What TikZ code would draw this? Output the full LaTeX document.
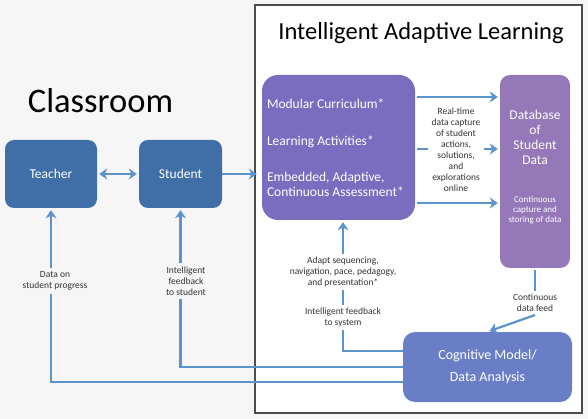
\documentclass[tikz,border=0pt]{standalone}
\usepackage{xcolor}
\usepackage{fontspec}
\setmainfont{Carlito}
\usepackage{tikz}
\usetikzlibrary{arrows.meta, positioning, calc}
\definecolor{classblue}{HTML}{3F6FA6}
\definecolor{flowblue}{HTML}{5B93CD}
\definecolor{ialpurple}{HTML}{7A6CBF}
\definecolor{dbpurple}{HTML}{9478B8}
\definecolor{cogblue}{HTML}{6A7EC8}
\definecolor{labelgray}{HTML}{333333}
\definecolor{bggray}{HTML}{F6F6F6}
\tikzset{
	classbox/.style={rounded corners=9pt, minimum height=68pt, fill=classblue, text=white, font=\fontsize{13.5}{15}\selectfont},
	iabox/.style={rounded corners=12pt, fill=#1, text=white, font=\fontsize{13.5}{15}\selectfont},
	flowline/.style={line width=2.2pt, draw=flowblue},
	flowarr/.style={flowline, -{Stealth[length=8pt, width=11pt, inset=2.5pt]}, shorten >=2pt},
	flowboth/.style={flowline, {Stealth[length=8pt, width=11pt, inset=2.5pt]}-{Stealth[length=8pt, width=11pt, inset=2.5pt]}, shorten >=2pt, shorten <=2pt},
	smalltxt/.style={align=center, text=labelgray, font=\fontsize{9.5}{11}\selectfont, inner sep=3pt},
}

\begin{document}
\begin{tikzpicture}[x=1pt, y=-1pt]
	\useasboundingbox[fill=bggray] (0,0) rectangle (588,419);
	\draw[fill=white, draw=black!70, line width=1.2pt] (255,5) rectangle (582,413);
	\node[anchor=base, font=\fontsize{24.5}{28}\selectfont] (title) at (421,39.5) {Intelligent Adaptive Learning};
	\node[anchor=base, font=\fontsize{34.5}{40}\selectfont] (room) at (100.5,113) {Classroom};

	% classroom side
	\node[classbox, minimum width=92pt] (teacher) at (51,174) {Teacher};
	\node[classbox, minimum width=83pt] (student) at (180.5,174) {Student};

	% adaptive learning side
	\node[iabox=ialpurple, rounded corners=16pt, minimum height=145pt, inner sep=5pt, text width=143pt, align=flush left] (ial) at (338.5,147.5) {Modular Curriculum*\\[22pt]Learning Activities*\\[21pt]Embedded, Adaptive,\\Continuous Assessment*};
	\node[iabox=dbpurple, rounded corners=10pt, minimum width=70pt, minimum height=193pt] (db) at (535,171.5) {};
	\node[align=center, text=white, font=\fontsize{13.5}{15}\selectfont] (dbname) at (535,137.5) {Database\\of\\Student\\Data};
	\node[align=center, text=white, font=\fontsize{9}{10}\selectfont] (dbnote) at (535,210) {Continuous\\capture and\\storing of data};
	\node[iabox=cogblue, minimum width=169pt, minimum height=70pt, align=center, font=\fontsize{14}{22}\selectfont] (cog) at (487.5,367) {Cognitive Model/\\Data Analysis};

	% labels
	\node[smalltxt] (realtime) at (456,150) {Real-time\\data capture\\of student\\actions,\\solutions,\\and\\explorations\\online};
	\node[smalltxt] (feed) at (535,303) {Continuous\\data feed};
	\node[smalltxt] (fbsys) at (343,317.5) {Intelligent feedback\\to system};
	\node[smalltxt] (adapt) at (343,272) {Adapt sequencing,\\navigation, pace, pedagogy,\\and presentation*};
	\node[smalltxt] (fbstud) at (186,281) {Intelligent\\feedback\\to student};
	\node[smalltxt] (progress) at (55,281) {Data on\\student progress};

	% arrows
	\draw[flowboth] (teacher) -- (student);
	\draw[flowarr, shorten >=5pt] (student.east) -- (student.east -| ial.west);
	\draw[flowarr, shorten <=2pt] ([yshift=50.5pt]ial.east) -- ([yshift=50.5pt]ial.east -| db.west);
	\draw[flowline, shorten <=2pt] ([yshift=-1.5pt]ial.east) -- ([yshift=-1.5pt]ial.east -| realtime.west);
	\draw[flowarr] ([yshift=-1.5pt]ial.east -| realtime.east) -- ([yshift=-1.5pt]ial.east -| db.west);
	\draw[flowarr, shorten <=2pt] ([yshift=-55.5pt]ial.east) -- ([yshift=-55.5pt]ial.east -| db.west);
	\draw[flowline, shorten <=2pt] (db.south) -- (feed.north);
	\draw[flowarr] (feed.south) -- (cog.north);
	\draw[flowline] ([yshift=16pt]cog.west) -| (fbsys.south);
	\draw[flowline] (fbsys.north) -- (adapt.south);
	\draw[flowarr] (adapt.north) -- (adapt.north |- ial.south);
	\draw[flowline] (cog.west) -| (fbstud.south -| student.south);
	\draw[flowarr] (fbstud.north -| student.south) -- (student.south);
	\draw[flowline] ([yshift=-15pt]cog.west) -| (progress.south -| teacher.south);
	\draw[flowarr] (progress.north -| teacher.south) -- (teacher.south);
\end{tikzpicture}
\end{document}
